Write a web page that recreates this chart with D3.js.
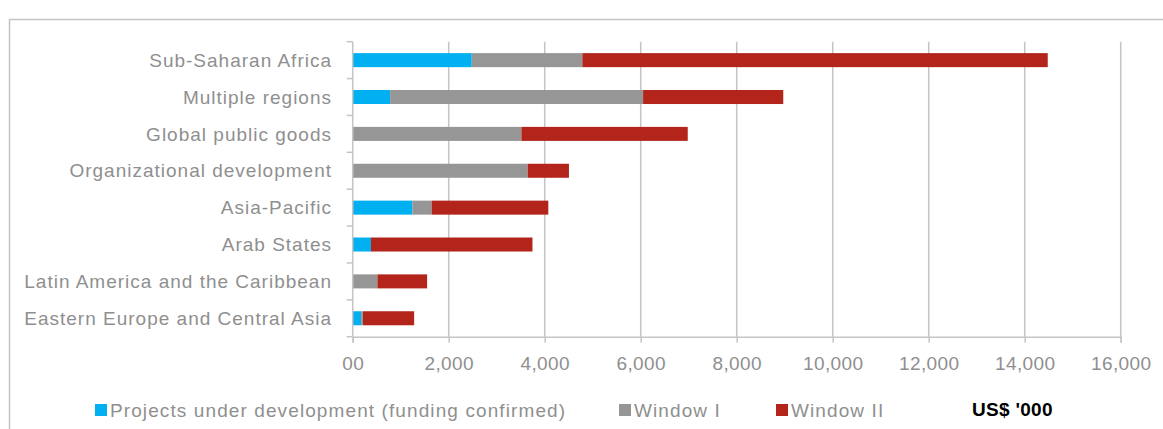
<!DOCTYPE html>
<html>
<head>
<meta charset="utf-8">
<script src="https://cdn.jsdelivr.net/npm/d3@7/dist/d3.min.js"></script>
<style>
  html, body { margin: 0; padding: 0; background: #fff; }
  svg { display: block; font-family: "Liberation Sans", Arial, sans-serif; }
</style>
</head>
<body>
<svg id="chart" width="1163" height="429"></svg>
<script>
// Regions, top to bottom
const regions = [
  "Sub-Saharan Africa",
  "Multiple regions",
  "Global public goods",
  "Organizational development",
  "Asia-Pacific",
  "Arab States",
  "Latin America and the Caribbean",
  "Eastern Europe and Central Asia"
];

// Funding per region, US$ '000
const pipeline = [2480, 780, 0, 0, 1245, 380, 0, 175];      // projects under development (funding confirmed)
const windowI  = [2305, 5270, 3515, 3645, 400, 0, 515, 40];
const windowII = [9695, 2920, 3465, 860, 2430, 3365, 1035, 1065];

const seriesNames = ["Projects under development (funding confirmed)", "Window I", "Window II"];
const seriesKeys = ["pipeline", "windowI", "windowII"];
const seriesColors = ["#00b0f0", "#969696", "#b3241a"];

const tickValues = [0, 2000, 4000, 6000, 8000, 10000, 12000, 14000, 16000];
const tickLabels = ["00", "2,000", "4,000", "6,000", "8,000", "10,000", "12,000", "14,000", "16,000"];

const rows = regions.map((r, i) => ({
  region: r, pipeline: pipeline[i], windowI: windowI[i], windowII: windowII[i]
}));

const svg = d3.select("#chart");
const textGrey = "#8f8f8f";
const lineGrey = "#c4c4c4";

// outer frame
svg.append("rect")
  .attr("x", 9.5).attr("y", 19.5)
  .attr("width", 1300).attr("height", 600)
  .attr("fill", "none").attr("stroke", lineGrey).attr("stroke-width", 1.5);

const plot = { left: 352.7, right: 1120.7, top: 41.7, bottom: 336.7 };

const x = d3.scaleLinear().domain([0, 16000]).range([plot.left, plot.right]);
const y = d3.scaleBand().domain(regions).range([plot.top, plot.bottom]).paddingInner(0.62).paddingOuter(0.31);

// vertical gridlines
svg.append("g").selectAll("line")
  .data(tickValues.slice(1))
  .join("line")
  .attr("x1", d => x(d)).attr("x2", d => x(d))
  .attr("y1", plot.top).attr("y2", plot.bottom)
  .attr("stroke", lineGrey).attr("stroke-width", 1.5);

// stacked bars
const stack = d3.stack().keys(seriesKeys)(rows);
svg.append("g").selectAll("g")
  .data(stack)
  .join("g")
  .attr("fill", (d, i) => seriesColors[i])
  .selectAll("rect")
  .data(d => d)
  .join("rect")
  .attr("x", d => x(d[0]))
  .attr("width", d => Math.max(0, x(d[1]) - x(d[0])))
  .attr("y", d => y(d.data.region))
  .attr("height", y.bandwidth());

// x axis
const xAxis = d3.axisBottom(x)
  .tickValues(tickValues)
  .tickFormat((d, i) => tickLabels[i])
  .tickSize(6)
  .tickPadding(14);
const gx = svg.append("g").attr("transform", `translate(0,${plot.bottom})`).call(xAxis);
gx.select(".domain").attr("stroke", lineGrey).attr("stroke-width", 1.5);
gx.selectAll(".tick line").attr("stroke", lineGrey).attr("stroke-width", 1.5);
gx.selectAll(".tick text")
  .attr("fill", textGrey)
  .attr("font-size", 19)
  .attr("letter-spacing", 0.4)
  .attr("font-family", "Liberation Sans, Arial, sans-serif");

// y axis: line and category boundary ticks
const step = y.step();
const bounds = d3.range(regions.length + 1).map(i => plot.top + i * step);
svg.append("line")
  .attr("x1", plot.left).attr("x2", plot.left)
  .attr("y1", plot.top).attr("y2", plot.bottom)
  .attr("stroke", lineGrey).attr("stroke-width", 1.5);
svg.append("g").selectAll("line")
  .data(bounds)
  .join("line")
  .attr("x1", plot.left - 6).attr("x2", plot.left)
  .attr("y1", d => d).attr("y2", d => d)
  .attr("stroke", lineGrey).attr("stroke-width", 1.5);

// category labels
svg.append("g").selectAll("text")
  .data(regions)
  .join("text")
  .attr("x", 332)
  .attr("y", d => y(d) + y.bandwidth() / 2)
  .attr("dy", "0.35em")
  .attr("text-anchor", "end")
  .attr("fill", textGrey)
  .attr("font-size", 19)
  .attr("letter-spacing", 1)
  .text(d => d);

// legend
const legendX = [95, 619, 776];
const legend = svg.append("g");
seriesNames.forEach((name, i) => {
  legend.append("rect")
    .attr("x", legendX[i]).attr("y", 404)
    .attr("width", 12).attr("height", 12)
    .attr("fill", seriesColors[i]);
  legend.append("text")
    .attr("x", legendX[i] + 15).attr("y", 417)
    .attr("fill", textGrey)
    .attr("font-size", 19)
    .attr("letter-spacing", 1.1)
    .text(name);
});
legend.append("text")
  .attr("x", 972).attr("y", 416)
  .attr("fill", "#000")
  .attr("font-size", 19)
  .attr("font-weight", "bold")
  .attr("letter-spacing", 0.3)
  .text("US$ '000");
</script>
</body>
</html>
